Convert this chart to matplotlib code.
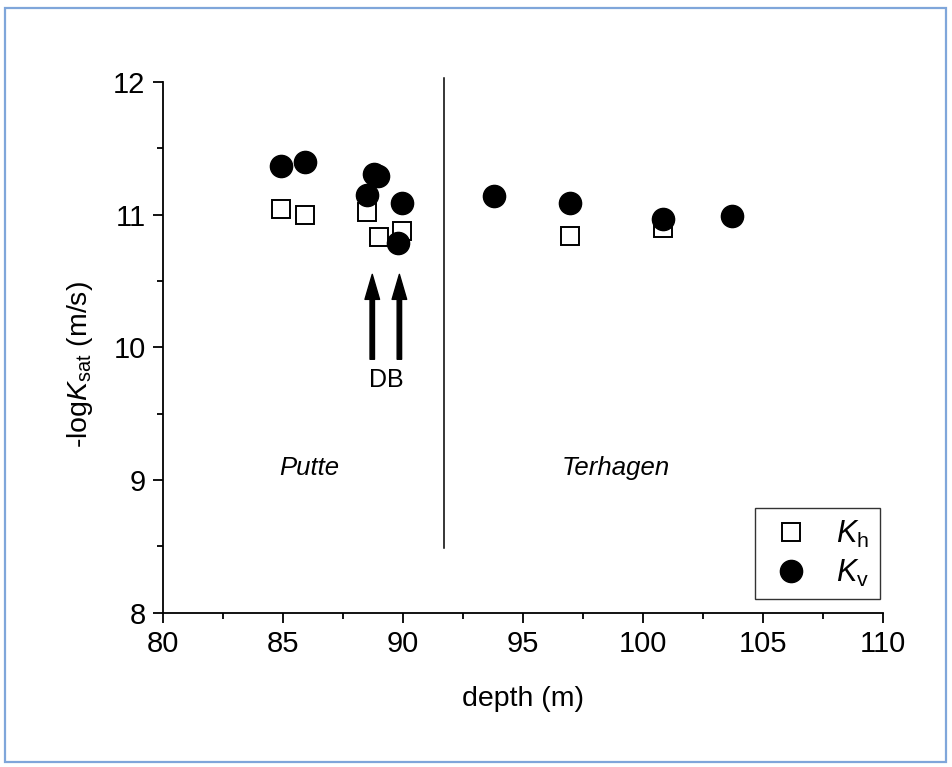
import matplotlib
matplotlib.use("Agg")
import matplotlib.pyplot as plt
from matplotlib.patches import Rectangle
from matplotlib.ticker import MultipleLocator

plt.rcParams['font.family'] = ['Liberation Sans', 'DejaVu Sans']
plt.rcParams['mathtext.fontset'] = 'custom'
plt.rcParams['mathtext.rm'] = 'Liberation Sans'
plt.rcParams['mathtext.it'] = 'Liberation Sans:italic'

# Data
kh_depth = [84.92, 85.92, 88.51, 89.00, 89.95, 96.96, 100.82]
kh_val = [11.04, 11.00, 11.02, 10.83, 10.88, 10.84, 10.90]
kv_depth = [84.92, 85.92, 88.79, 88.96, 88.51, 89.95, 89.80, 93.79, 96.96, 100.82, 103.70]
kv_val = [11.37, 11.40, 11.31, 11.29, 11.15, 11.09, 10.79, 11.14, 11.09, 10.97, 10.99]

boundary_depth = 91.7
boundary_y = (8.49, 12.03)
arrow_x = [88.72, 89.85]
arrow_tail_y = 9.91
arrow_head_y = 10.55

fig = plt.figure(figsize=(9.52, 7.67), dpi=100)
fig.patches.append(Rectangle((5/952, 5/767), 941/952, 754/767, transform=fig.transFigure,
                             fill=False, edgecolor='#7fa6da', linewidth=1.6))
ax = fig.add_axes([0.1712, 0.2012, 0.7563, 0.6919])

ax.plot(kh_depth, kh_val, linestyle='none', marker='s', markersize=13.5,
        markerfacecolor='white', markeredgecolor='black', markeredgewidth=1.4,
        label=r'$\mathit{K}_{\mathrm{h}}$', zorder=3)
ax.plot(kv_depth, kv_val, linestyle='none', marker='o', markersize=16,
        markerfacecolor='black', markeredgecolor='black',
        label=r'$\mathit{K}_{\mathrm{v}}$', zorder=4)

ax.plot([boundary_depth, boundary_depth], boundary_y, color='black', lw=1.1, clip_on=False)

for x in arrow_x:
    ax.annotate('', xy=(x, arrow_head_y), xytext=(x, arrow_tail_y),
                arrowprops=dict(width=3.2, headwidth=10.5, headlength=18,
                                facecolor='black', edgecolor='black', shrink=0))

ax.text(89.29, 9.755, 'DB', fontsize=18, ha='center', va='center')
ax.text(86.08, 9.09, 'Putte', fontsize=18.5, style='italic', ha='center', va='center')
ax.text(98.88, 9.09, 'Terhagen', fontsize=18.5, style='italic', ha='center', va='center')

ax.set_xlim(80, 110)
ax.set_ylim(8, 12)
ax.xaxis.set_major_locator(MultipleLocator(5))
ax.xaxis.set_minor_locator(MultipleLocator(2.5))
ax.yaxis.set_major_locator(MultipleLocator(1))
ax.yaxis.set_minor_locator(MultipleLocator(0.5))
for s in ['top', 'right']:
    ax.spines[s].set_visible(False)
for s in ['left', 'bottom']:
    ax.spines[s].set_linewidth(1.3)
ax.tick_params(which='major', direction='out', length=7.5, width=1.3, labelsize=21, pad=5)
ax.tick_params(which='minor', direction='out', length=4.5, width=1.3)

ax.set_xlabel('depth (m)', fontsize=20.5, labelpad=20)
ax.set_ylabel(r'-log$\mathit{K}_{\mathrm{sat}}$ (m/s)', fontsize=20.5)
ax.yaxis.set_label_coords(-0.094, 0.468)

leg = ax.legend(loc='lower right', bbox_to_anchor=(0.996, 0.025), frameon=True,
                fancybox=False, fontsize=22, handlelength=1.64, handletextpad=0.66,
                borderpad=0.35, labelspacing=0.25, borderaxespad=0)
leg.get_frame().set_edgecolor('black')
leg.get_frame().set_linewidth(1.0)

fig.savefig('out.png', dpi=100)
